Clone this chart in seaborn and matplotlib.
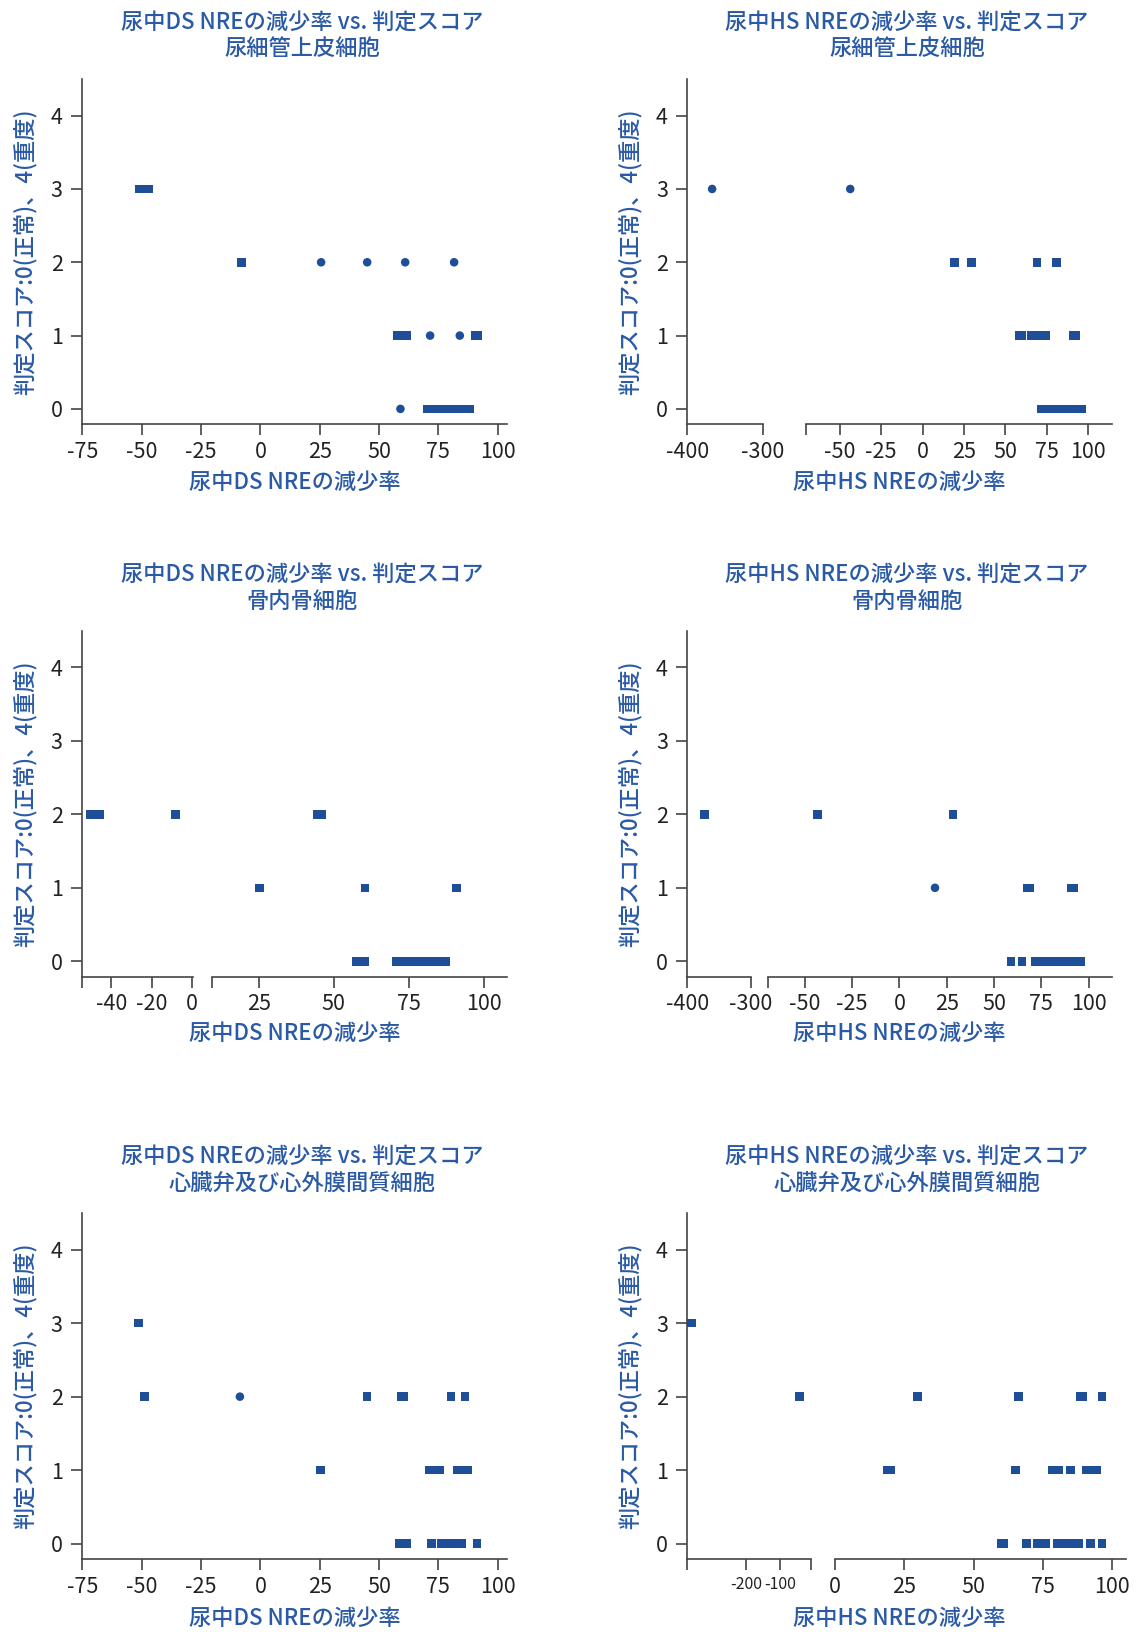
import matplotlib
matplotlib.use("Agg")
import matplotlib.pyplot as plt
import pandas as pd
import seaborn as sns

# ---- data ----
ds_tub_x = [-51, -49.5, -48, -47, -8, 25.6, 45, 61, 81.6,
            57.5, 59, 60.5, 61.5, 71.5, 84, 90.5, 91.5,
            59, 70.5, 71.5, 72.5, 74, 75, 76.5, 77.5, 79, 80, 82, 83, 84, 85, 86.5, 88]
ds_tub_y = [3, 3, 3, 3, 2, 2, 2, 2, 2,
            1, 1, 1, 1, 1, 1, 1, 1,
            0, 0, 0, 0, 0, 0, 0, 0, 0, 0, 0, 0, 0, 0, 0, 0]
ds_tub_m = ['s', 's', 's', 's', 's', 'o', 'o', 'o', 'o',
            's', 's', 's', 's', 'o', 'o', 's', 's',
            'o', 's', 's', 's', 's', 's', 's', 's', 's', 's', 's', 's', 's', 's', 's', 's']

hs_tub_x = [-367, -43.6, 19.3, 29.4, 68.9, 80.9,
            58.5, 60, 65.5, 67, 72.5, 74, 91, 92.5,
            71.5, 73, 75, 77, 79, 80.5, 82, 84, 85.5, 87, 89, 90.5, 92, 94, 96]
hs_tub_y = [3, 3, 2, 2, 2, 2,
            1, 1, 1, 1, 1, 1, 1, 1,
            0, 0, 0, 0, 0, 0, 0, 0, 0, 0, 0, 0, 0, 0, 0]
hs_tub_m = ['o', 'o', 's', 's', 's', 's'] + ['s'] * 8 + ['s'] * 15

ds_bone_x = [-50.5, -49, -47.5, -46, -8.2, 44.5, 46,
             25.3, 60.5, 91,
             57.5, 58.5, 59.5, 60.5, 71, 72.5, 74, 75.5, 77, 78.5, 80, 81.5, 83, 84.5, 86, 87.5]
ds_bone_y = [2, 2, 2, 2, 2, 2, 2,
             1, 1, 1,
             0, 0, 0, 0, 0, 0, 0, 0, 0, 0, 0, 0, 0, 0, 0, 0]
ds_bone_m = ['s'] * 26

hs_bone_x = [-373, -43.1, 28.4,
             18.8, 67.5, 69, 91, 92,
             58.9, 64.7, 72, 74, 76, 78, 80, 82, 84, 86, 88, 90, 92, 94, 95.8]
hs_bone_y = [2, 2, 2,
             1, 1, 1, 1, 1,
             0, 0, 0, 0, 0, 0, 0, 0, 0, 0, 0, 0, 0, 0, 0]
hs_bone_m = ['s', 's', 's', 'o', 's', 's', 's', 's'] + ['s'] * 15

ds_heart_x = [-51.4,
              -49, -48.5, -8.6, 44.9, 59.5, 60.5, 80.3, 86.2,
              25.3, 71, 72.5, 74, 75.5, 83, 84.5, 86, 87.5,
              58.7, 60, 61.5, 72.2, 76.2, 77.5, 79, 80.5, 82, 83.5, 84.6, 91.2]
ds_heart_y = [3,
              2, 2, 2, 2, 2, 2, 2, 2,
              1, 1, 1, 1, 1, 1, 1, 1, 1,
              0, 0, 0, 0, 0, 0, 0, 0, 0, 0, 0, 0]
ds_heart_m = ['s', 's', 's', 'o'] + ['s'] * 26

hs_heart_x = [-362, -359,
              -42.5, 29.7, 66.2, 88.5, 89.5, 96.2,
              19, 20, 65, 78.5, 80.5, 85, 90.5, 92.5, 94.5,
              60, 61, 69, 72.8, 74.5, 76, 80, 81.5, 83.5, 86, 88, 92.1, 96.2]
hs_heart_y = [3, 3,
              2, 2, 2, 2, 2, 2,
              1, 1, 1, 1, 1, 1, 1, 1, 1,
              0, 0, 0, 0, 0, 0, 0, 0, 0, 0, 0, 0, 0]
hs_heart_m = ['s'] * 30

cells = ['尿細管上皮細胞', '骨内骨細胞', '心臓弁及び心外膜間質細胞']
ds_title = '尿中DS NREの減少率 vs. 判定スコア'
hs_title = '尿中HS NREの減少率 vs. 判定スコア'
ds_label = '尿中DS NREの減少率'
hs_label = '尿中HS NREの減少率'
y_label = '判定スコア:0(正常)、4(重度)'
y_ticks = [0, 1, 2, 3, 4]

# ---- style ----
sns.set_style('ticks')
plt.rcParams['font.family'] = ['Noto Sans CJK JP', 'DejaVu Sans']
blue = '#1f4e99'
tblue = '#2a5aa6'
spine_c = '#444444'
W, H = 1136, 1632
TXT = 16
TICK = 15.5
WT = 'medium'


def px(l, t, r, b):
    return [l / W, 1 - b / H, (r - l) / W, (b - t) / H]


fig = plt.figure(figsize=(W / 100, H / 100), dpi=100)


def draw(ax, xs, ys, ms, xlim, ticks, labels, show_y=True, lab_size=TICK):
    df = pd.DataFrame({'x': xs, 'y': ys, 'm': ms})
    sns.scatterplot(data=df, x='x', y='y', style='m', markers={'s': 's', 'o': 'o'},
                    color=blue, s=38, linewidth=0, legend=False, ax=ax)
    ax.set_xlim(*xlim)
    ax.set_ylim(-0.21, 4.5)
    ax.set_xticks(ticks)
    ax.set_xticklabels(labels, fontsize=lab_size, color='#222222')
    ax.set_xlabel('')
    ax.set_ylabel('')
    for s in ['top', 'right']:
        ax.spines[s].set_visible(False)
    for s in ['left', 'bottom']:
        ax.spines[s].set_color(spine_c)
        ax.spines[s].set_linewidth(1.2)
    ax.tick_params(axis='x', length=8, width=1.2, color=spine_c, pad=4)
    if show_y:
        ax.set_yticks(y_ticks)
        ax.set_yticklabels([str(v) for v in y_ticks], fontsize=TICK, color='#222222')
        ax.tick_params(axis='y', length=8, width=1.2, color=spine_c, pad=6)
    else:
        ax.spines['left'].set_visible(False)
        ax.set_yticks([])


rows = [(79, 424.3), (630.7, 976.7), (1213, 1559)]
title_y = [(22.7, 48), (575, 601), (1156.7, 1183.3)]
xlab_y = [482, 1033, 1618]

# row 1
ax = fig.add_axes(px(82.2, 79, 507.3, 424.3))
draw(ax, ds_tub_x, ds_tub_y, ds_tub_m, (-75, 104), [-75, -50, -25, 0, 25, 50, 75, 100],
     ['-75', '-50', '-25', '0', '25', '50', '75', '100'])
a1 = fig.add_axes(px(687.3, 79, 762.5, 424.3))
draw(a1, hs_tub_x, hs_tub_y, hs_tub_m, (-400, -300), [-400, -300], ['-400', '-300'])
a2 = fig.add_axes(px(805.8, 79, 1112.4, 424.3))
draw(a2, hs_tub_x, hs_tub_y, hs_tub_m, (-70.4, 114.5), [-70.4, -50, -25, 0, 25, 50, 75, 100],
     ['', '-50', '-25', '0', '25', '50', '75', '100'], show_y=False)

# row 2
b1 = fig.add_axes(px(82.2, 630.7, 192.7, 976.7))
draw(b1, ds_bone_x, ds_bone_y, ds_bone_m, (-54.5, 0.4), [-54.5, -40, -20, 0], ['', '-40', '-20', '0'])
b2 = fig.add_axes(px(212, 630.7, 507.3, 976.7))
draw(b2, ds_bone_x, ds_bone_y, ds_bone_m, (9.4, 107.9), [9.4, 25, 50, 75, 100],
     ['', '25', '50', '75', '100'], show_y=False)
c1 = fig.add_axes(px(687.3, 630.7, 750.5, 976.7))
draw(c1, hs_bone_x, hs_bone_y, hs_bone_m, (-400, -300), [-400, -300], ['-400', '-300'])
c2 = fig.add_axes(px(767.6, 630.7, 1112.4, 976.7))
draw(c2, hs_bone_x, hs_bone_y, hs_bone_m, (-69.6, 112.5), [-69.6, -50, -25, 0, 25, 50, 75, 100],
     ['', '-50', '-25', '0', '25', '50', '75', '100'], show_y=False)

# row 3
ax = fig.add_axes(px(82.2, 1213, 507.3, 1559))
draw(ax, ds_heart_x, ds_heart_y, ds_heart_m, (-75, 104), [-75, -50, -25, 0, 25, 50, 75, 100],
     ['-75', '-50', '-25', '0', '25', '50', '75', '100'])
d1 = fig.add_axes(px(687.3, 1213, 811.3, 1559))
draw(d1, hs_heart_x, hs_heart_y, hs_heart_m, (-372, -8), [-372, -200, -100, -8],
     ['', '-200', '-100', ''], lab_size=11.5)
d2 = fig.add_axes(px(834.9, 1213, 1126.2, 1559))
draw(d2, hs_heart_x, hs_heart_y, hs_heart_m, (0, 105), [0, 25, 50, 75, 100],
     ['0', '25', '50', '75', '100'], show_y=False)

# titles and axis labels
for i in range(3):
    t1, t2 = title_y[i]
    for cx, ttl in [(302, ds_title), (907, hs_title)]:
        fig.text(cx / W, 1 - t1 / H, ttl, ha='center', va='center', fontsize=TXT, color=tblue, fontweight=WT)
        fig.text(cx / W, 1 - t2 / H, cells[i], ha='center', va='center', fontsize=TXT, color=tblue, fontweight=WT)
    fig.text(295 / W, 1 - xlab_y[i] / H, ds_label, ha='center', va='center', fontsize=TXT, color=tblue, fontweight=WT)
    fig.text(899 / W, 1 - xlab_y[i] / H, hs_label, ha='center', va='center', fontsize=TXT, color=tblue, fontweight=WT)
    top, bot = rows[i]
    cy = 1 - (top + bot) / 2 / H
    fig.text(24.7 / W, cy, y_label, rotation=90, ha='center', va='center', fontsize=TXT, color=tblue, fontweight=WT)
    fig.text(629.8 / W, cy, y_label, rotation=90, ha='center', va='center', fontsize=TXT, color=tblue, fontweight=WT)

fig.savefig('out.png', dpi=100)
